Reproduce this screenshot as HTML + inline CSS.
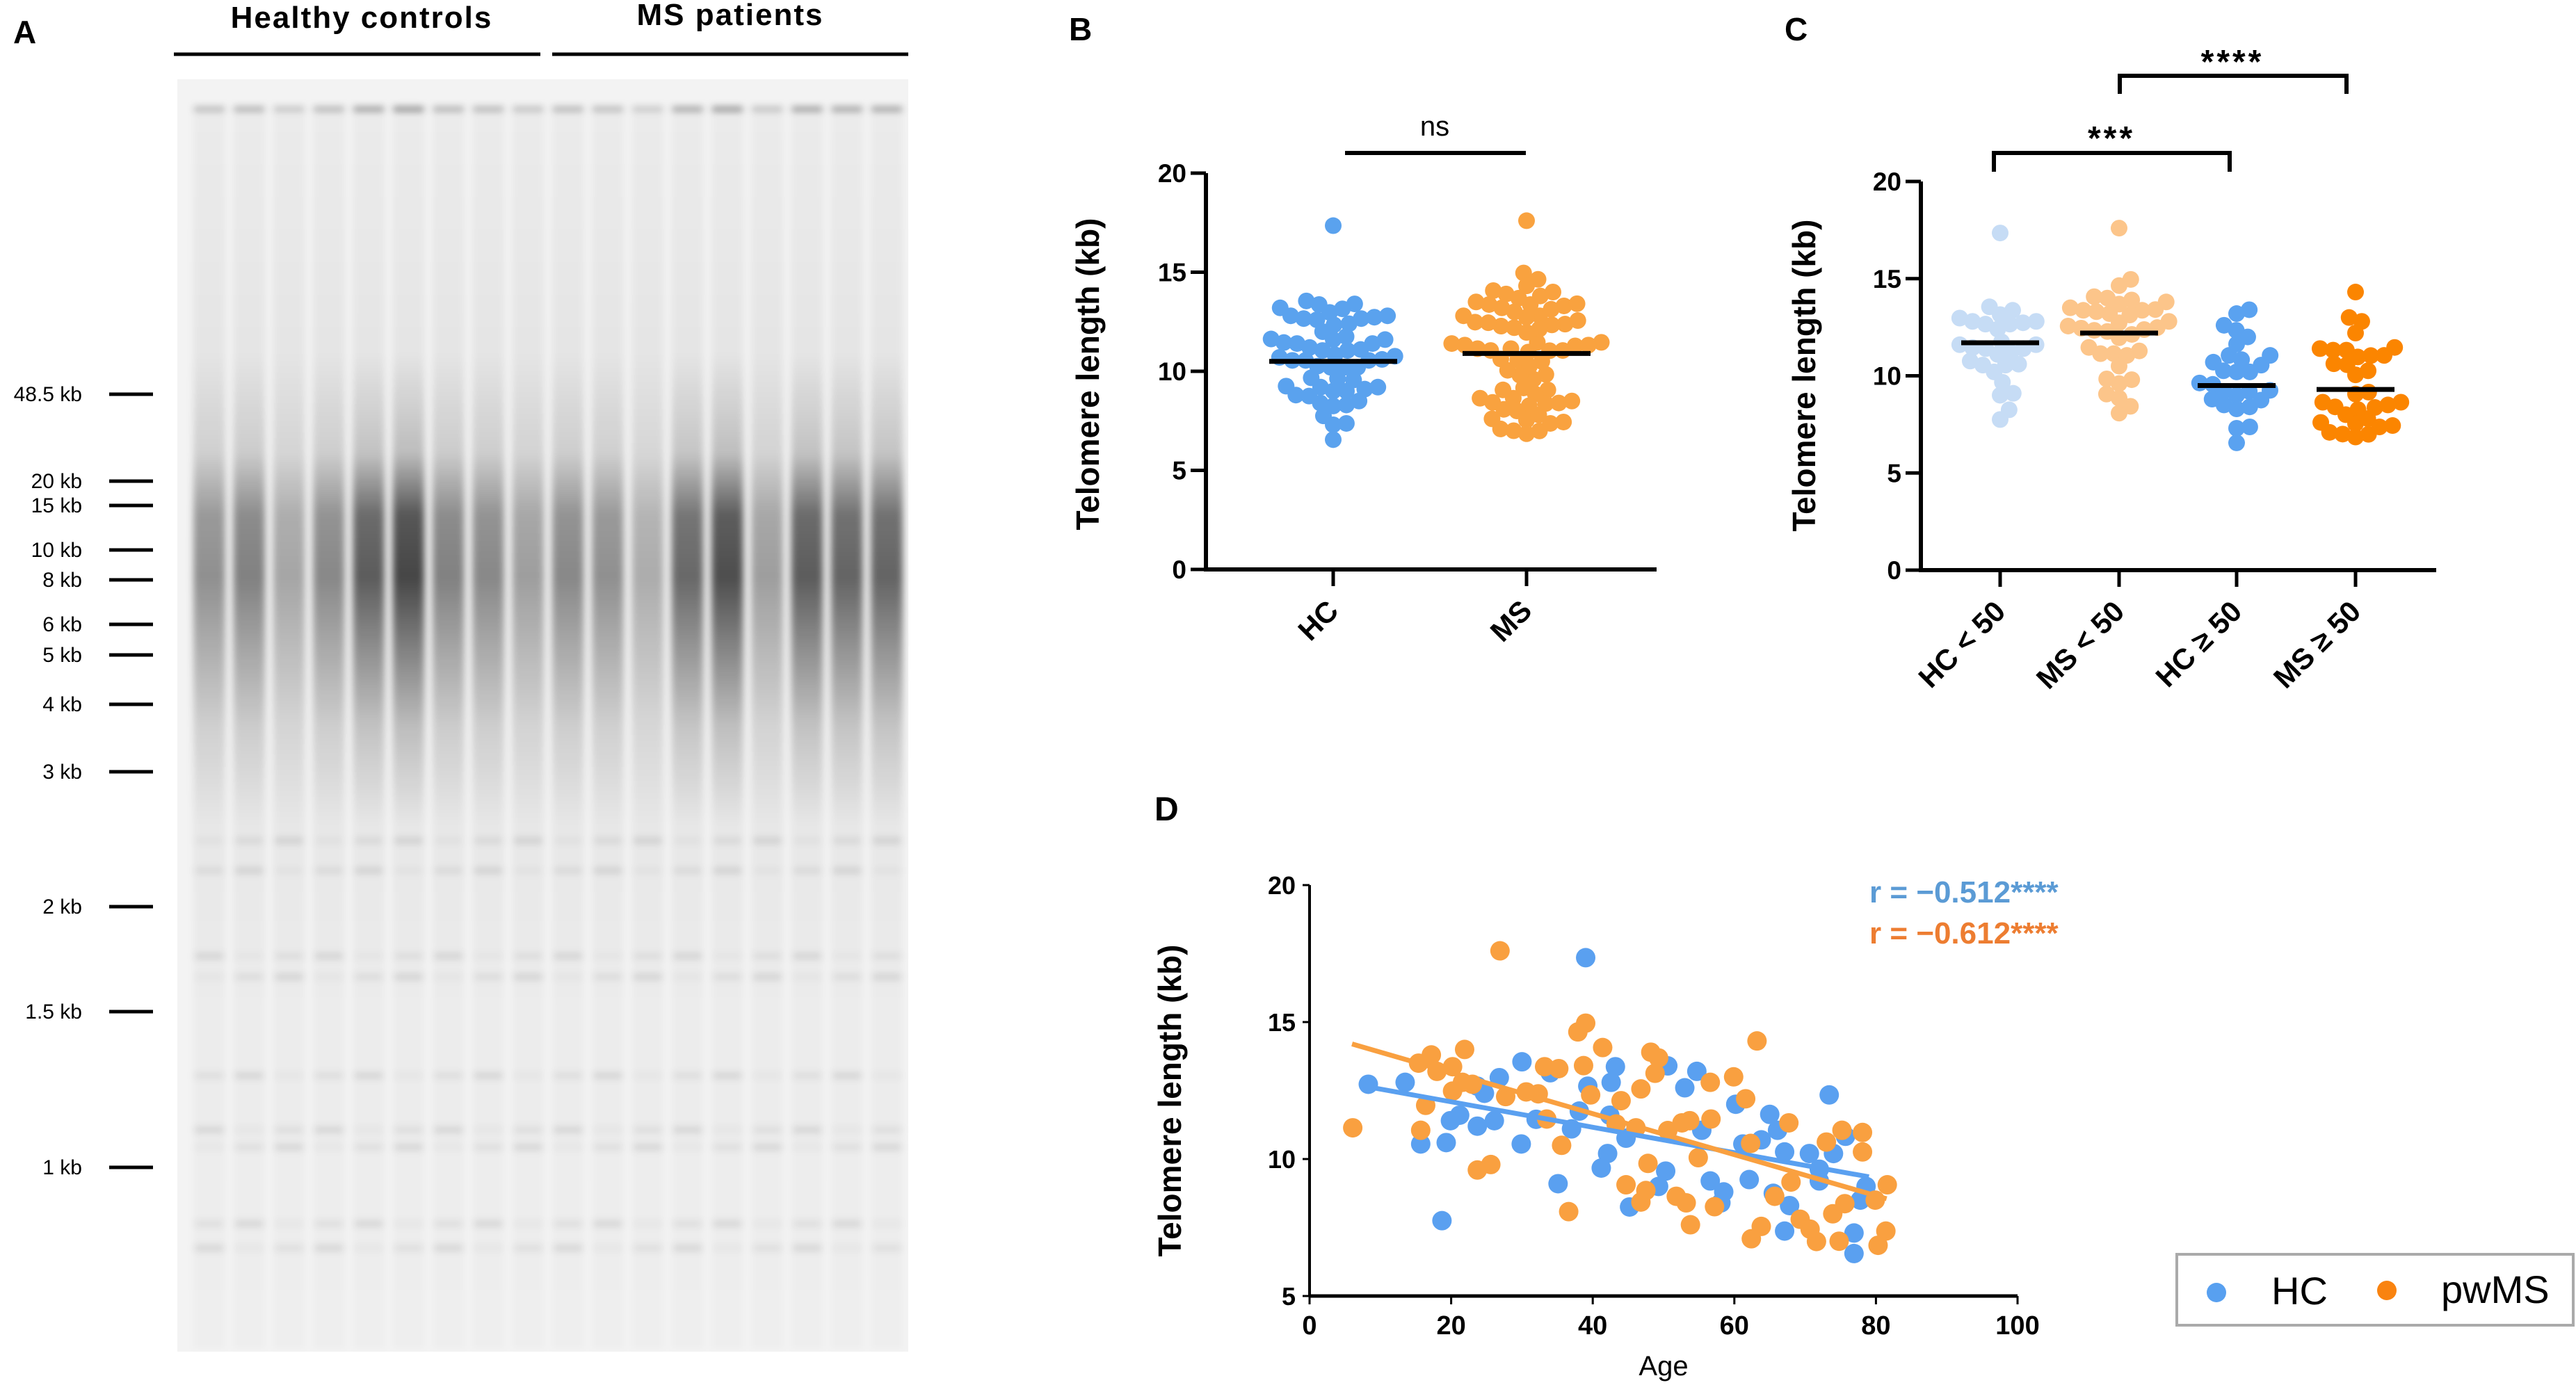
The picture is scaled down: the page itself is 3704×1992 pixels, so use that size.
<!DOCTYPE html>
<html><head><meta charset="utf-8"><style>
html,body{margin:0;padding:0;background:#fff;}
svg{display:block;}
text{font-family:"Liberation Sans",sans-serif;}
</style></head><body>
<svg id="fig" width="3704" height="1992" viewBox="0 0 3704 1992" xmlns="http://www.w3.org/2000/svg">
<defs id="defs0"><filter id="blur" x="-5%" y="-5%" width="110%" height="110%"><feGaussianBlur stdDeviation="5"/></filter></defs>
<g id="panelA">
 <text x="19" y="62" font-size="46" font-weight="bold">A</text>
 <text x="520" y="40" font-size="44" font-weight="bold" text-anchor="middle" letter-spacing="2">Healthy controls</text>
 <text x="1050" y="36" font-size="44" font-weight="bold" text-anchor="middle" letter-spacing="2">MS patients</text>
 <line x1="250" y1="78" x2="777" y2="78" stroke="#000" stroke-width="5"/>
 <line x1="794" y1="78" x2="1306" y2="78" stroke="#000" stroke-width="5"/>
 <rect x="255" y="114" width="1051" height="1830" fill="#f3f3f3"/>
 <g id="lanes" filter="url(#blur)"></g>
 <g id="markers"></g>
</g>
<g id="panelB"></g>
<g id="panelC"></g>
<g id="panelD"></g>
</svg>
<script>
// ---- data (Panel D, reused for B and C) ----
const hcAge = [8.3,13.5,15.7,19.3,18.7,19.9,21.2,23.7,23.7,24.7,26.1,26.8,29.9,30,32,34,37,38.1,35.1,39,39.3,41.2,42.1,42.6,42.4,43.2,44.7,45.2,49.3,50.3,50.6,53,54.7,55.4,56.6,58.5,58.1,60.2,61.2,62.1,63.8,65,65.5,66.1,67.1,67.1,67.8,70.6,72,72,73.4,74,75.7,76.9,76.9,77.8,78.6];
const hcTL  = [12.73,12.8,10.55,10.6,7.75,11.4,11.6,11.2,12.66,12.4,11.4,12.97,10.55,13.55,11.45,13.15,11.1,11.75,9.1,17.35,12.66,9.67,10.2,12.8,11.6,13.37,10.76,8.25,9.0,9.56,13.4,12.6,13.2,11.05,9.2,8.8,8.4,12.0,10.55,9.25,10.7,11.63,8.75,11.05,10.26,7.37,8.3,10.2,9.63,9.2,12.34,10.2,10.83,7.3,6.55,8.5,9.0];
const msAge = [6.1,15.4,17.2,16.4,15.7,18,20.2,20.2,21.9,21.6,23,23.7,25.6,26.9,27.7,30.6,32.3,33.2,35.2,33.5,35.6,36.6,37.9,39,38.7,39.7,41.4,44,43.3,44.7,46.1,46.8,46.8,47.5,47.8,48.2,49.3,48.8,50.6,51.8,52.6,53.7,53.2,53.8,54.9,56.6,56.7,57.2,59.9,61.6,62.3,62.4,63.8,63.2,65.7,67.7,68,69.3,70.7,71.6,73,73.9,75.2,75.6,74.8,78.1,78.1,79.9,80.3,81.4,81.6];
const msTL  = [11.14,13.5,13.8,11.96,11.05,13.2,13.37,12.48,14.0,12.8,12.73,9.6,9.8,17.6,12.28,12.45,12.38,13.37,13.3,11.46,10.5,8.08,14.64,14.96,13.41,12.34,14.07,12.13,11.28,9.06,11.14,8.43,12.56,8.85,9.84,13.9,13.69,13.13,11.04,8.64,11.32,11.4,8.4,7.6,10.05,12.8,11.46,8.26,13.0,12.2,10.57,7.09,7.54,14.31,8.64,11.32,9.16,7.8,7.44,6.99,10.62,8.0,11.05,8.37,7.0,10.97,10.26,8.5,6.85,7.37,9.06];
const hcFitAge = [9, 79];
const hcFitTL = [12.6, 9.35];
const msFitAge = [6, 81.5];
const msFitTL = [14.2, 8.55];
const meansB = [10.5, 10.9];
const meansC = [11.7, 12.2, 9.5, 9.3];
const yTicksB = [0,5,10,15,20];
const yTicksD = [5,10,15,20];
const xTicksD = [0,20,40,60,80,100];
const catsB = ["HC","MS"];
const catsC = ["HC < 50","MS < 50","HC \u2265 50","MS \u2265 50"];
const gelMarkers = ["48.5 kb","20 kb","15 kb","10 kb","8 kb","6 kb","5 kb","4 kb","3 kb","2 kb","1.5 kb","1 kb"];
const laneDark = [0.45,0.55,0.3,0.5,0.8,0.95,0.55,0.5,0.35,0.5,0.45,0.25,0.72,0.9,0.35,0.8,0.75,0.75];

const NS="http://www.w3.org/2000/svg";
function mk(tag, attrs, parent, txt){const e=document.createElementNS(NS,tag);for(const k in attrs)e.setAttribute(k,attrs[k]);if(txt!==undefined)e.textContent=txt;parent.appendChild(e);return e;}

// ---- Panel A: gel ----
(function(){
 const lanes=document.getElementById('lanes'), markers=document.getElementById('markers');
 const defs=document.getElementById('defs0');
 const markerY=[567,692,727,791,834,898,942,1013,1110,1304,1455,1679];
 gelMarkers.forEach((m,i)=>{
  const t=mk('text',{x:118,y:markerY[i]+10,'font-size':30,'text-anchor':'end','font-family':'DejaVu Sans, sans-serif'},markers,m);
  
  
  const l=mk('line',{x1:157,x2:220,y1:markerY[i],y2:markerY[i],stroke:'#000','stroke-width':5},markers);
  
  
 });
 const bands=[1209,1252,1375,1405,1547,1625,1650,1760,1795];
 laneDark.forEach((d,i)=>{
  const cx=301+i*57.3;
  const g=mk('linearGradient',{id:'lg'+i,x1:0,y1:0,x2:0,y2:1},defs);
  const stops=[[0,0.03],[0.2,0.06],[0.28,0.08+0.15*d],[0.33,0.12+0.55*d],[0.38,0.14+0.6*d],[0.43,0.12+0.4*d],[0.5,0.08+0.15*d],[0.58,0.05],[0.7,0.03],[1,0.02]];
  stops.forEach(s=>mk('stop',{offset:s[0],'stop-color':'#000','stop-opacity':s[1]},g));
  const r=mk('rect',{x:cx-23,y:150,width:46,height:1790,fill:'url(#lg'+i+')'},lanes);
  
  
  const w=mk('rect',{x:cx-22,y:154,width:44,height:6,fill:'#000','fill-opacity':0.1+0.4*d},lanes);
  
  
  bands.forEach((by,j)=>{
   const b=mk('rect',{x:cx-21,y:by-5,width:42,height:10,fill:'#000','fill-opacity':0.04+0.03*((i+j)%3)},lanes);
   
   
  });
 });
})();

// ---- beeswarm helper (allows overlap via collision radius) ----
function swarm(vals, yf, cr){
 const d=2*cr, placed=[], out=new Array(vals.length);
 const idx=vals.map((v,i)=>i).sort((a,b)=>vals[a]-vals[b]);
 idx.forEach(i=>{
  const y=yf(vals[i]);
  const near=placed.filter(p=>Math.abs(p.y-y)<d);
  let cands=[0];
  near.forEach(p=>{const dx=Math.sqrt(d*d-(p.y-y)*(p.y-y));cands.push(p.x+dx+0.01,p.x-dx-0.01);});
  cands.sort((a,b)=>Math.abs(a)-Math.abs(b));
  let x=0;
  for(const c of cands){if(near.every(p=>(p.x-c)*(p.x-c)+(p.y-y)*(p.y-y)>=d*d-0.1)){x=c;break;}}
  placed.push({x,y});out[i]=x;
 });
 return out;
}

function dotAxes(g, ax, ay0, ay20, xEnd, ticks, cats, catX, titleX, titleY){
 const yf=v=>ay0-(ay0-ay20)*v/20;
 const a1=mk('line',{x1:ax,y1:yf(20),x2:ax,y2:ay0+2,stroke:'#000','stroke-width':6},g);
 
 
 const a2=mk('line',{x1:ax-3,y1:ay0,x2:xEnd,y2:ay0,stroke:'#000','stroke-width':6},g);
 
 
 ticks.forEach(t=>{
  const l=mk('line',{x1:ax-22,x2:ax,y1:yf(t),y2:yf(t),stroke:'#000','stroke-width':5},g);
  
  
  const tx=mk('text',{x:ax-28,y:yf(t)+13,'font-size':37,'font-weight':'bold','text-anchor':'end'},g,String(t));
  
  
 });
 cats.forEach((c,i)=>{
  const l=mk('line',{x1:catX[i],x2:catX[i],y1:ay0,y2:ay0+24,stroke:'#000','stroke-width':5},g);
  
  
  const tx=mk('text',{x:catX[i]+10,y:ay0+62,'font-size':42,'font-weight':'bold','text-anchor':'end',transform:'rotate(-45 '+(catX[i]+10)+' '+(ay0+62)+')'},g,c);
  
  
 });
 const tt=mk('text',{x:titleX,y:titleY,'font-size':46,'font-weight':'bold','text-anchor':'middle',transform:'rotate(-90 '+titleX+' '+titleY+')'},g,'Telomere length (kb)');
 
 
 return yf;
}
function drawGroup(g, vals, m, cx, yf, r, cr, color, halfW, name){
 const offs=swarm(vals,yf,cr);
 vals.forEach((v,i)=>{
  const c=mk('circle',{cx:cx+offs[i],cy:yf(v),r:r,fill:color},g);
  
  
 });
 const l=mk('line',{x1:cx-halfW,x2:cx+halfW,y1:yf(m),y2:yf(m),stroke:'#000','stroke-width':7},g);
 
 
}

// ---- Panel B ----
(function(){
 const g=document.getElementById('panelB');
 const t=mk('text',{x:1537,y:58,'font-size':46,'font-weight':'bold'},g,'B');
 
 
 const catX=[1917,2195];
 const yf=dotAxes(g,1734,819,249,2382,yTicksB,catsB,catX,1580,538);
 drawGroup(g,hcTL,meansB[0],catX[0],yf,12,9.5,'#5aa2ee',92,'hc');
 drawGroup(g,msTL,meansB[1],catX[1],yf,12,9.5,'#f9a23f',92,'ms');
 const s=mk('line',{x1:1934,x2:2194,y1:220,y2:220,stroke:'#000','stroke-width':6},g);
 
 
 const st=mk('text',{x:2063,y:195,'font-size':40,'text-anchor':'middle'},g,'ns');
 
 
})();

// ---- Panel C ----
(function(){
 const g=document.getElementById('panelC');
 const t=mk('text',{x:2566,y:58,'font-size':46,'font-weight':'bold'},g,'C');
 
 
 const catX=[2876,3047,3216,3387];
 const yf=dotAxes(g,2762,820,261,3503,yTicksB,catsC,catX,2610,540);
 const hcY=hcTL.filter((v,i)=>hcAge[i]<50), hcO=hcTL.filter((v,i)=>hcAge[i]>=50);
 const msY=msTL.filter((v,i)=>msAge[i]<50), msO=msTL.filter((v,i)=>msAge[i]>=50);
 drawGroup(g,hcY,meansC[0],catX[0],yf,12,9.5,'#c6dcf5',56,'hc-under-50');
 drawGroup(g,msY,meansC[1],catX[1],yf,12,9.5,'#fcc58a',56,'ms-under-50');
 drawGroup(g,hcO,meansC[2],catX[2],yf,12,9.5,'#5aa2f0',56,'hc-over-50');
 drawGroup(g,msO,meansC[3],catX[3],yf,12,9.5,'#fb8500',56,'ms-over-50');
 const b1=mk('polyline',{points:'2867,247 2867,220 3206,220 3206,247',fill:'none',stroke:'#000','stroke-width':6},g);
 
 
 const b2=mk('polyline',{points:'3048,135 3048,109 3374,109 3374,135',fill:'none',stroke:'#000','stroke-width':6},g);
 
 
 const s1=mk('text',{x:3036,y:215,'font-size':48,'font-weight':'bold','text-anchor':'middle','letter-spacing':4},g,'***');
 
 
 const s2=mk('text',{x:3210,y:105,'font-size':48,'font-weight':'bold','text-anchor':'middle','letter-spacing':4},g,'****');
 
 
})();

// ---- Panel D ----
(function(){
 const g=document.getElementById('panelD');
 const xf=a=>1883+a*10.18, yf=v=>1864-(v-5)*39.4;
 const t=mk('text',{x:1660,y:1180,'font-size':48,'font-weight':'bold'},g,'D');
 
 
 const a1=mk('line',{x1:xf(0),y1:yf(20),x2:xf(0),y2:yf(5),stroke:'#000','stroke-width':4},g);
 
 
 const a2=mk('line',{x1:xf(0),y1:yf(5),x2:xf(100),y2:yf(5),stroke:'#000','stroke-width':5},g);
 
 
 yTicksD.forEach(v=>{
  const l=mk('line',{x1:xf(0)-10,x2:xf(0),y1:yf(v),y2:yf(v),stroke:'#000','stroke-width':3},g);
  
  
  const tx=mk('text',{x:xf(0)-20,y:yf(v)+13,'font-size':36,'font-weight':'bold','text-anchor':'end','font-family':'Liberation Sans Narrow, Liberation Sans, sans-serif'},g,String(v));
  
  
 });
 xTicksD.forEach(v=>{
  const l=mk('line',{x1:xf(v),x2:xf(v),y1:yf(5),y2:yf(5)+12,stroke:'#000','stroke-width':3},g);
  
  
  const tx=mk('text',{x:xf(v),y:yf(5)+55,'font-size':38,'font-weight':'bold','text-anchor':'middle','font-family':'Liberation Sans Narrow, Liberation Sans, sans-serif'},g,String(v));
  
  
 });
 const xt=mk('text',{x:2392,y:1978,'font-size':40,'text-anchor':'middle','font-family':'Liberation Sans Narrow, Liberation Sans, sans-serif'},g,'Age');
 
 
 const yt=mk('text',{x:1698,y:1583,'font-size':46,'font-weight':'bold','text-anchor':'middle',transform:'rotate(-90 1698 1583)'},g,'Telomere length (kb)');
 
 
 hcAge.forEach((a,i)=>{
  const c=mk('circle',{cx:xf(a),cy:yf(hcTL[i]),r:14,fill:'#5aa0f0'},g);
  
  
 });
 msAge.forEach((a,i)=>{
  const c=mk('circle',{cx:xf(a),cy:yf(msTL[i]),r:14,fill:'#f9a040'},g);
  
  
 });
 const l1=mk('line',{x1:xf(hcFitAge[0]),y1:yf(hcFitTL[0]),x2:xf(hcFitAge[1]),y2:yf(hcFitTL[1]),stroke:'#5aa0f0','stroke-width':7},g);
 
 
 const l2=mk('line',{x1:xf(msFitAge[0]),y1:yf(msFitTL[0]),x2:xf(msFitAge[1]),y2:yf(msFitTL[1]),stroke:'#f9a040','stroke-width':7},g);
 
 
 const r1=mk('text',{x:2688,y:1298,'font-size':44,'font-weight':'bold',fill:'#5b9bd5','font-family':'Liberation Serif, serif'},g,'r = \u22120.512****');
 
 
 const r2=mk('text',{x:2688,y:1357,'font-size':44,'font-weight':'bold',fill:'#ed7d31','font-family':'Liberation Serif, serif'},g,'r = \u22120.612****');
 
 
 const lg=mk('g',{},g);
 
 
 const box=mk('rect',{x:3130,y:1804,width:570,height:102,fill:'#fff',stroke:'#aaa','stroke-width':4},lg);
 
 
 const d1=mk('circle',{cx:3187,cy:1859,r:14,fill:'#58a0f0'},lg);
 
 
 const t1=mk('text',{x:3266,y:1876,'font-size':56},lg,'HC');
 
 
 const d2=mk('circle',{cx:3432,cy:1856,r:14,fill:'#f98310'},lg);
 
 
 const t2=mk('text',{x:3510,y:1874,'font-size':56},lg,'pwMS');
 
 
})();
</script>
</body></html>
